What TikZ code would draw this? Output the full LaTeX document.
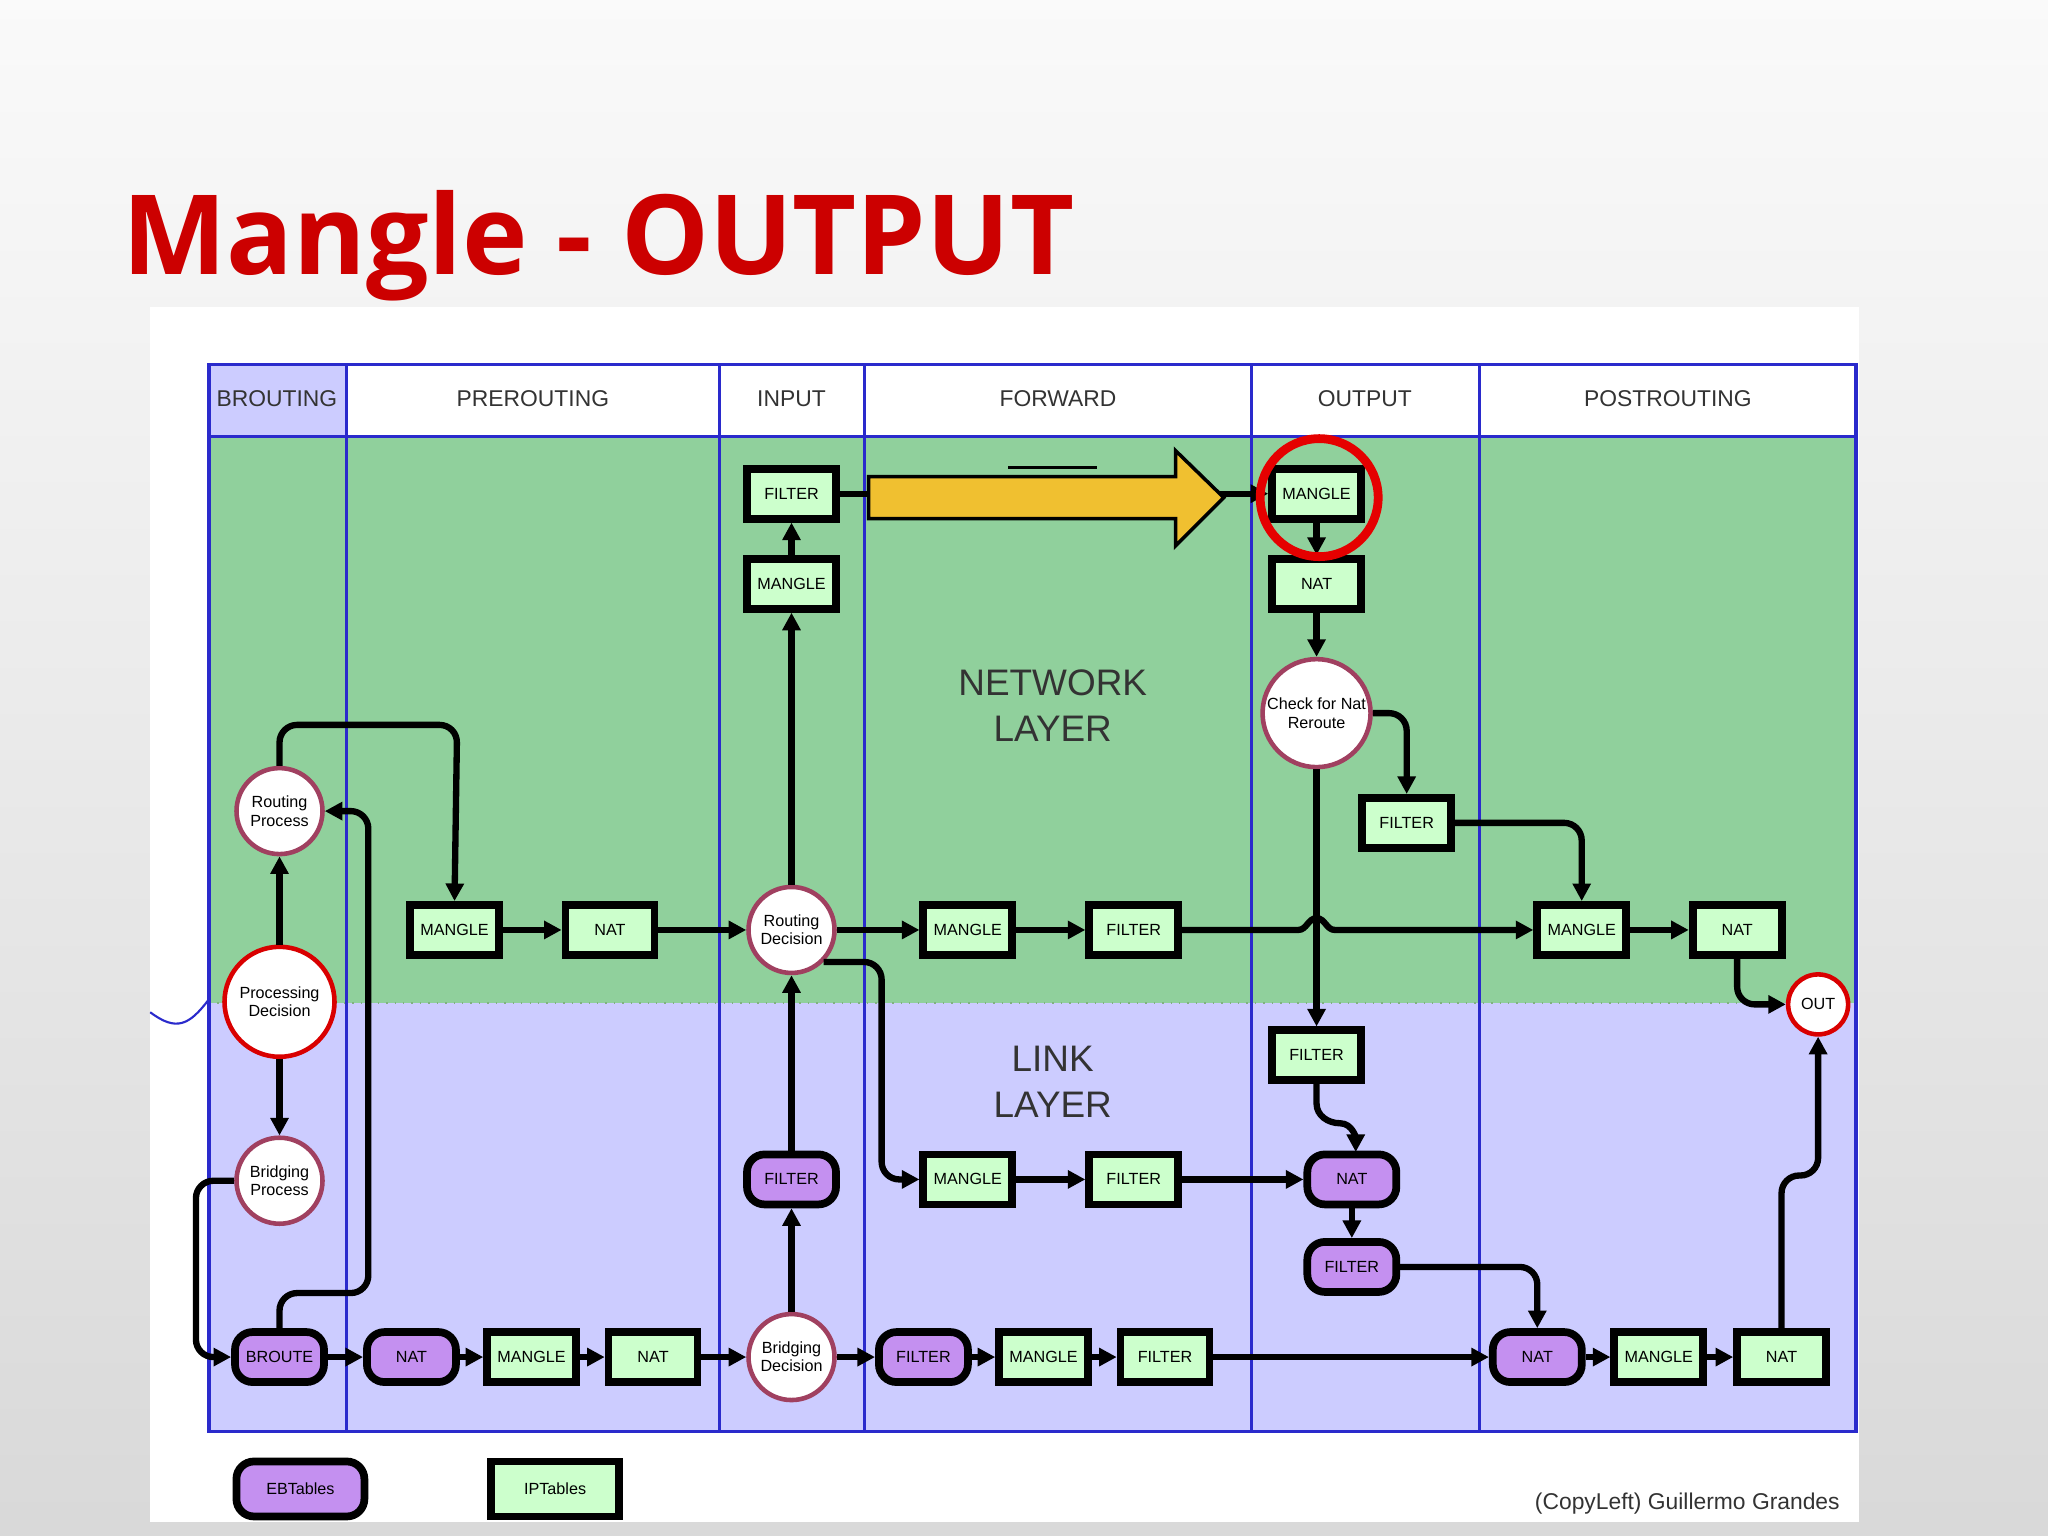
\documentclass[tikz,border=0pt]{standalone}
\usepackage{fontspec}
\setmainfont{Liberation Sans}
\newfontfamily\titlefont{Open Sans}
\usetikzlibrary{arrows.meta,shapes.geometric}
\definecolor{netg}{HTML}{90D09C}
\definecolor{linkl}{HTML}{CCCCFF}
\definecolor{ipt}{HTML}{CCFFCC}
\definecolor{ebt}{HTML}{C490F0}
\definecolor{tblue}{HTML}{2A2ACC}
\definecolor{maroon}{HTML}{A04060}
\definecolor{ttlred}{HTML}{CC0000}
\definecolor{yarrow}{HTML}{F0C030}
\tikzset{
 x=0.013061cm, y=-0.013061cm,
 ip/.style={draw=black, line width=2.2pt, fill=ipt, minimum width=0.89cm, minimum height=0.5cm, inner sep=0pt, font=\fontsize{4.6}{5}\selectfont},
 eb/.style={draw=black, line width=2.2pt, fill=ebt, rounded corners=5pt, minimum width=0.89cm, minimum height=0.5cm, inner sep=0pt, font=\fontsize{4.6}{5}\selectfont},
 dec/.style={circle, draw=maroon, line width=1.3pt, fill=white, inner sep=0pt, align=center, font=\fontsize{4.6}{5.2}\selectfont},
 con/.style={line width=1.8pt, rounded corners=5pt, -{Triangle[length=5pt,width=5pt]}},
 hdr/.style={font=\fontsize{6.5}{8}\selectfont, text=black!80},
 lay/.style={font=\fontsize{10.5}{13}\selectfont, text=black!80, align=center}
}
\begin{document}
\begin{tikzpicture}
\useasboundingbox (0,0) rectangle (1568,1176);
\shade[top color=white!96!gray, bottom color=gray!30] (0,0) rectangle (1568,1176);
\node[anchor=base west, inner sep=0pt, text=ttlred, font=\titlefont\bfseries\fontsize{31.5}{38}\selectfont] (title) at (93,210) {Mangle - OUTPUT};
\fill[white] (115,235) rectangle (1423,1165);
% regions
\fill[netg] (160,334) rectangle (1421,768);
\fill[linkl] (160,768) rectangle (1421,1096);
\fill[linkl] (160,279) rectangle (265,334);
\draw[green!40!black!50, dotted] (160,768) -- (1421,768);
\draw[tblue, line width=0.9pt] (160,279) rectangle (1421,1096);
\draw[tblue, line width=0.9pt] (160,334) -- (1421,334);
\foreach \xx in {265,551,662,958,1133} \draw[tblue, line width=0.9pt] (\xx,279) -- (\xx,1096);
\draw[tblue, line width=0.6pt] (115,775) .. controls (135,790) and (145,785) .. (160,765);
\node[hdr] (h1) at (212,305) {BROUTING};
\node[hdr] (h2) at (408,305) {PREROUTING};
\node[hdr] (h3) at (606,305) {INPUT};
\node[hdr] (h4) at (810,305) {FORWARD};
\node[hdr] (h5) at (1045,305) {OUTPUT};
\node[hdr] (h6) at (1277,305) {POSTROUTING};
\node[lay] (nl) at (806,540) {NETWORK\\LAYER};
\node[lay] (ll) at (806,828) {LINK\\LAYER};
% nodes
\node[ip] (fin) at (606,378) {FILTER};
\node[ip] (min) at (606,447) {MANGLE};
\node[ip] (mout) at (1008,378) {MANGLE};
\node[ip] (nout) at (1008,447) {NAT};
\node[dec, minimum size=1.08cm] (chk) at (1008,546) {Check for Nat\\Reroute};
\node[ip] (fout) at (1077,630) {FILTER};
\node[ip] (mpre) at (348,712) {MANGLE};
\node[ip] (npre) at (467,712) {NAT};
\node[dec, minimum size=0.86cm] (rd) at (606,712) {Routing\\Decision};
\node[ip] (mfw) at (741,712) {MANGLE};
\node[ip] (ffw) at (868,712) {FILTER};
\node[ip] (mpo) at (1211,712) {MANGLE};
\node[ip] (npo) at (1330,712) {NAT};
\node[dec, draw=red!85!black, minimum size=0.6cm] (out) at (1392,769) {OUT};
\node[ip] (fol) at (1008,808) {FILTER};
\node[ip] (mfl) at (741,903) {MANGLE};
\node[ip] (ffl) at (868,903) {FILTER};
\node[eb] (nol) at (1035,903) {NAT};
\node[eb] (fol2) at (1035,970) {FILTER};
\node[eb] (fil) at (606,903) {FILTER};
\node[dec, minimum size=0.86cm] (rp) at (214,621) {Routing\\Process};
\node[dec, draw=red!85!black, minimum size=1.1cm] (pd) at (214,767) {Processing\\Decision};
\node[dec, minimum size=0.86cm] (bp) at (214,904) {Bridging\\Process};
\node[eb] (br) at (214,1039) {BROUTE};
\node[eb] (b1) at (315,1039) {NAT};
\node[ip] (b2) at (407,1039) {MANGLE};
\node[ip] (b3) at (500,1039) {NAT};
\node[dec, minimum size=0.86cm] (bd) at (606,1039) {Bridging\\Decision};
\node[eb] (b5) at (707,1039) {FILTER};
\node[ip] (b6) at (799,1039) {MANGLE};
\node[ip] (b7) at (892,1039) {FILTER};
\node[eb] (b8) at (1177,1039) {NAT};
\node[ip] (b9) at (1270,1039) {MANGLE};
\node[ip] (b10) at (1364,1039) {NAT};
\node[eb, minimum width=1.28cm, minimum height=0.55cm] (leb) at (230,1140) {EBTables};
\node[ip, minimum width=1.28cm, minimum height=0.55cm] (lip) at (425,1140) {IPTables};
\node[anchor=east, font=\fontsize{6.5}{8}\selectfont, text=black!80] (cl) at (1418,1151) {(CopyLeft) Guillermo Grandes};
% connectors
\draw[black, line width=1pt] (772,358) -- (840,358);
\draw[con] (fin) -- (mout);
\draw[con] (min) -- (fin);
\draw[con] (rd) -- (min);
\draw[con] (mout) -- (nout);
\draw[con] (nout) -- (chk);
\draw[con] (chk.east) -| (fout.north);
\draw[con] (fout.east) -| (mpo.north);
\draw[con] (chk) -- (fol);
\draw[con, sharp corners] (fol.south) -- (1008,845) to[out=-90,in=180] (1026,860) to[out=0,in=90] (1038,882);
\draw[con] (nol) -- (fol2);
\draw[con] (fol2.east) -| (b8.north);
\draw[con] (rp.north) |- (350,555) -- (mpre.north);
\draw[con] (pd) -- (rp);
\draw[con] (pd) -- (bp);
\draw[con] (br.north) |- (282,990) |- (rp.east);
\draw[con] (bp.west) -| (150,1039) -- (br.west);
\draw[con] (mpre) -- (npre);
\draw[con] (npre) -- (rd);
\draw[con] (rd) -- (mfw);
\draw[con] (mfw) -- (ffw);
\draw[con, sharp corners] (ffw.east) -- (994,712) to[out=0,in=180] (1008,703) to[out=0,in=180] (1022,712) -- (mpo.west);
\draw[con] (mpo) -- (npo);
\draw[con] (npo.south) |- (out.west);
\draw[con] (rd.south east) -| (675,903) -- (mfl.west);
\draw[con] (mfl) -- (ffl);
\draw[con] (ffl) -- (nol);
\draw[con] (bd) -- (fil);
\draw[con] (fil) -- (rd);
\draw[con] (br) -- (b1);
\draw[con] (b1) -- (b2);
\draw[con] (b2) -- (b3);
\draw[con] (b3) -- (bd);
\draw[con] (bd) -- (b5);
\draw[con] (b5) -- (b6);
\draw[con] (b6) -- (b7);
\draw[con] (b7) -- (b8);
\draw[con] (b8) -- (b9);
\draw[con] (b9) -- (b10);
\draw[con] (b10.north) |- (1392,900) -- (out.south);
% highlight
\draw[black, line width=1pt, fill=yarrow] (665,365) -- (900,365) -- (900,345) -- (937,381) -- (900,418) -- (900,397) -- (665,397) -- cycle;
\node[circle, draw=red!90!black, line width=2.5pt, minimum size=1.18cm] (hl) at (1010,381) {};
\end{tikzpicture}
\end{document}
